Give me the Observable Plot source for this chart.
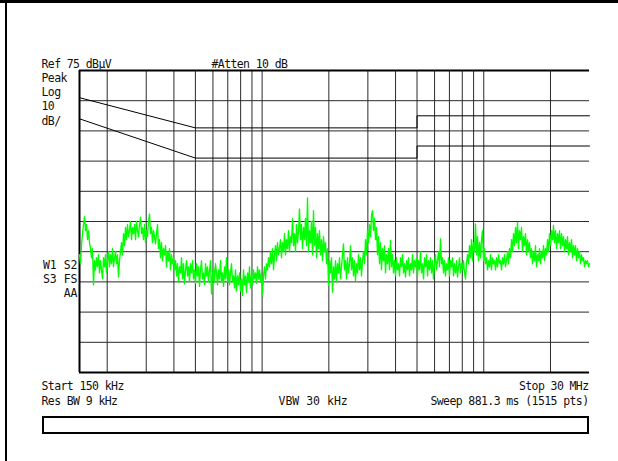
<!DOCTYPE html>
<html>
<head>
<meta charset="utf-8">
<script src="https://cdn.jsdelivr.net/npm/d3@7"></script>
<script src="https://cdn.jsdelivr.net/npm/@observablehq/plot@0.6"></script>
<style>
  html, body { margin: 0; padding: 0; background: #fff; overflow: hidden; }
  #screen { position: relative; width: 618px; height: 461px; }
  #screen svg { position: absolute; left: 0; top: 0; }
  #screen svg text { font-family: "DejaVu Sans Mono", monospace; font-size: 11.5px; letter-spacing: -0.6px; fill: #111; }
  #screen svg .wide text { letter-spacing: 0; }
  .edge-top { position: absolute; left: 0; top: 0; width: 618px; height: 3px; background: #000; }
  .edge-left { position: absolute; left: 5px; top: 0; width: 2px; height: 461px; background: #000; }
  .msgbox { position: absolute; left: 42px; top: 416px; width: 543px; height: 14px; border: 2px solid #000; background: #fff; }
</style>
</head>
<body>
<div id="screen">
  <div class="edge-top"></div>
  <div class="edge-left"></div>
  <div class="msgbox"></div>
</div>
<script>
// Sweep settings
const sweepStart = 150e3;   // Hz
const sweepStop = 30e6;     // Hz
const refLevel = 75;        // dBμV, top of screen
const dbPerDiv = 10;

// Graticule
const freqGrid = [2e5, 3e5, 4e5, 5e5, 6e5, 7e5, 8e5, 9e5, 1e6, 2e6, 3e6, 4e6, 5e6, 6e6, 7e6, 8e6, 9e6, 1e7, 2e7];
const levelGrid = [65, 55, 45, 35, 25, 15, 5, -5, -15];

// Limit lines (dBμV)
const limitFreqs = [150e3, 500e3, 5e6, 5e6, 30e6];
const upperLimit = [66, 56, 56, 60, 60];
const lowerLimit = [59, 46, 46, 50, 50];

// Peak trace, dBμV, log-spaced display points from start to stop
const traceLevels = [
  14, 11, 17, 21, 24, 26.6, 22, 24, 19, 22, 18, 16, 13, 16, 4, 12,
  9, 13, 10, 14, 8, 12, 9, 6, 13, 10, 14, 8, 12, 15, 10, 14,
  11, 16, 10, 13, 15, 11, 14, 6.6, 12, 15, 18, 14, 21, 17, 23, 19,
  24, 20, 22, 25, 19, 23, 21, 24, 19, 25, 22, 20, 24, 26.4, 21, 23,
  19, 24, 18, 22, 20, 25, 27.5, 21, 23, 18, 22, 20, 17.6, 21, 24, 16,
  19, 13, 18, 12, 16, 14, 17, 10, 15, 12, 16, 9, 14, 11, 13, 9,
  12, 7, 11, 5, 10, 8, 13, 6, 11, 4.4, 9, 12, 7, 10, 5, 11,
  8, 12, 6, 9, 4.5, 11, 7, 10, 3.5, 9, 12, 6, 8, 4, 11, 7,
  10, 5, 9, 12, 1, 7, 10, 5, 11, 8, 4, 9, 6, 12, 5, 8,
  3.5, 10, 6, 13, 5, 9, 4, 8, 11, 5, 7, 3, 9, 2, 7, 4,
  8, 2, 6, 0.5, 9, 4, 7, 1.5, 8, 5, 10, 3, 7, 4, 9, 6,
  8, 4.5, 10, 6, 9, 5, 8, 0.5, 7, 10, 6, 11, 9, 13, 10, 15,
  11, 16, 9, 14, 17, 12, 18, 14, 16, 19, 13, 18, 15, 21, 14, 19,
  16, 22, 15, 20, 18, 25.9, 17, 21, 15, 24, 18, 22, 29.2, 19, 24, 16,
  23, 19, 26, 17, 32.8, 15, 22, 18, 25, 14, 28.6, 17, 23, 13, 21, 16,
  22, 14, 19, 12, 20, 15, 18, 11, 16, 3.8, 12, 8, 13, 1.6, 10, 6,
  12, 5, 11, 8, 13, 6, 10, 14, 17.6, 9, 12, 6, 13, 8, 11, 17,
  9, 13, 7, 12, 5.5, 11, 8, 14, 9, 13, 7, 12, 15, 11, 19, 14,
  22, 18, 24, 20, 27, 28.6, 22, 26, 19, 23, 14, 20, 11, 18, 9, 16,
  12, 17, 8, 14, 11, 16, 9, 18.7, 10, 14, 8, 12, 7, 13, 9, 11,
  7, 13, 10, 14, 8, 11, 6.6, 12, 9, 13, 7, 11, 9, 14, 8, 12,
  10, 13, 7, 12, 9, 15, 8, 11, 6, 13, 10, 14, 7, 12, 9, 13,
  8, 12, 6, 11, 14, 9, 12, 15, 10, 19.3, 11, 13, 8, 12, 7, 11,
  9, 13, 7, 12, 10, 13, 7, 11, 8, 12, 6.6, 10, 13, 8, 11, 9,
  12, 8, 6, 11, 14, 11, 17, 13, 19, 12, 18, 15, 24.2, 14, 20, 12,
  18, 13, 19, 22, 12, 16, 11, 13, 9, 12, 10, 14, 9, 13, 11, 12,
  9, 13, 10, 14, 11, 12, 9, 13, 11, 14, 10, 12, 15, 11, 16, 13,
  19, 15, 21, 17, 23, 18, 24.8, 16, 22, 19, 23, 15, 20, 17, 21, 14,
  19, 15, 18, 13, 16, 11, 15, 12, 17, 10, 14, 12, 16, 11, 15, 13,
  17, 12, 16, 14, 19, 15, 21, 17, 22, 19, 23.7, 18, 22, 16, 21, 18,
  22, 16, 21, 17, 20, 15, 19, 16, 20, 14, 18, 15, 19, 13, 17, 14,
  17, 12, 16, 13, 15, 11, 14, 12, 13, 10, 12, 11, 12, 10, 11
];

// Display points are evenly spaced in log frequency across the sweep
const logF = d3.scaleLinear()
  .domain([0, traceLevels.length - 1])
  .range([Math.log10(sweepStart), Math.log10(sweepStop)]);
const trace = traceLevels.map((v, i) => ({f: 10 ** logF(i), v}));

const upper = limitFreqs.map((f, i) => ({f, v: upperLimit[i]}));
const lower = limitFreqs.map((f, i) => ({f, v: lowerLimit[i]}));

const bottomLevel = refLevel - 10 * dbPerDiv;

// Annotation placed relative to the graticule's top-left corner; y is the baseline
const label = (s, dx, dy, anchor = "start", className) =>
  Plot.text([s], {frameAnchor: "top-left", dx, dy, textAnchor: anchor, lineAnchor: "bottom", className});

const chart = Plot.plot({
  width: 618,
  height: 461,
  marginLeft: 79,
  marginRight: 29,
  marginTop: 70,
  marginBottom: 89,
  style: {background: "transparent", overflow: "visible"},
  x: {type: "log", domain: [sweepStart, sweepStop], axis: null},
  y: {domain: [bottomLevel, refLevel], axis: null},
  marks: [
    Plot.ruleX(freqGrid, {stroke: "#2a2a2a", strokeWidth: 1}),
    Plot.ruleY(levelGrid, {stroke: "#2a2a2a", strokeWidth: 1}),
    Plot.ruleY([refLevel], {stroke: "#000", strokeWidth: 2}),
    Plot.ruleY([bottomLevel], {stroke: "#000", strokeWidth: 2}),
    Plot.ruleX([sweepStart], {stroke: "#000", strokeWidth: 2}),
    Plot.line(upper, {x: "f", y: "v", stroke: "#000", strokeWidth: 1}),
    Plot.line(lower, {x: "f", y: "v", stroke: "#000", strokeWidth: 1}),
    Plot.line(trace, {x: "f", y: "v", stroke: "#00ff00", strokeWidth: 1.35}),
    label("Ref 75 dBμV", -38, -3),
    label("#Atten 10 dB", 132, -3),
    label("Peak", -38, 11),
    label("Log", -38, 25.5),
    label("10", -38, 39.5),
    label("dB/", -38, 54),
    label("W1 S2", -2, 198, "end", "wide"),
    label("S3 FS", -2, 212, "end", "wide"),
    label("AA", -2, 226, "end", "wide"),
    label("Start 150 kHz", -38, 319),
    label("Stop 30 MHz", 509, 319, "end"),
    label("Res BW 9 kHz", -38, 334),
    label("VBW 30 kHz", 199, 334, "start", "wide"),
    label("Sweep 881.3 ms (1515 pts)", 509, 334, "end")
  ]
});

document.getElementById("screen").prepend(chart);
</script>
</body>
</html>
